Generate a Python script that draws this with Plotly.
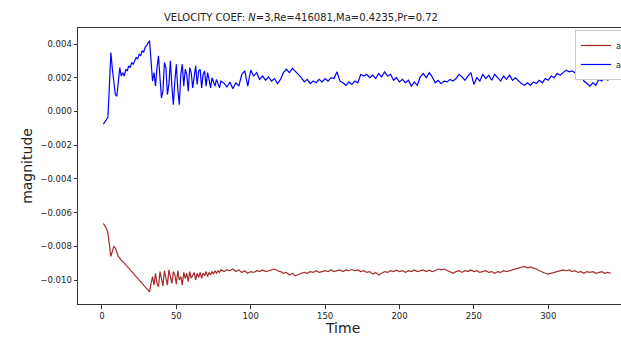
import plotly.graph_objects as go

# ---- data ----
time_early = list(range(1, 81))
time_late = list(range(82, 343, 2))
time = time_early + time_late

# series a0 (red), values in units of 1e-3
a0_early = [-6.65, -6.8, -6.95, -7.2, -8.0, -8.6, -8.3, -8.0, -8.1, -8.4,
            -8.6, -8.7, -8.85, -8.9, -9.0, -9.1, -9.2, -9.3, -9.45, -9.55,
            -9.65, -9.75, -9.85, -9.95, -10.05, -10.15, -10.25, -10.35, -10.45, -10.55,
            -10.65, -10.7, -10.2, -9.8, -10.3, -9.6, -10.2, -10.4, -9.5, -9.9,
            -10.35, -9.45, -9.8, -10.3, -9.4, -9.9, -10.2, -9.5, -9.7, -10.25,
            -9.45, -10.0, -9.8, -10.3, -9.55, -9.9, -9.6, -10.1, -9.5, -9.9,
            -9.7, -9.55, -10.0, -9.6, -9.85, -9.55, -9.9, -9.6, -9.75, -9.5,
            -9.8, -9.55, -9.7, -9.5, -9.65, -9.45, -9.6, -9.45, -9.55, -9.4]
a0_late = [-9.5, -9.4, -9.45, -9.35, -9.5, -9.4, -9.55, -9.45, -9.6, -9.5,
           -9.55, -9.45, -9.5, -9.4, -9.5, -9.45, -9.4, -9.35, -9.45, -9.5,
           -9.6, -9.55, -9.7, -9.6, -9.75, -9.65, -9.6, -9.55, -9.6, -9.5,
           -9.55, -9.45, -9.55, -9.5, -9.45, -9.5, -9.4, -9.5, -9.45, -9.4,
           -9.5, -9.4, -9.45, -9.38, -9.45, -9.4, -9.5, -9.45, -9.55, -9.5,
           -9.65, -9.55, -9.7, -9.6, -9.5, -9.55, -9.45, -9.5, -9.42, -9.5,
           -9.45, -9.55, -9.45, -9.5, -9.4, -9.5, -9.45, -9.4, -9.5, -9.42,
           -9.5, -9.45, -9.35, -9.4, -9.35, -9.45, -9.55, -9.6, -9.5, -9.45,
           -9.55, -9.45, -9.5, -9.4, -9.5, -9.45, -9.55, -9.5, -9.45, -9.55,
           -9.5, -9.6, -9.5, -9.55, -9.45, -9.5, -9.45, -9.4, -9.35, -9.3,
           -9.25, -9.2, -9.28, -9.22, -9.3, -9.35, -9.45, -9.55, -9.6, -9.65,
           -9.6, -9.55, -9.5, -9.45, -9.4, -9.45, -9.4, -9.5, -9.45, -9.55,
           -9.5, -9.6, -9.5, -9.55, -9.5, -9.6, -9.55, -9.5, -9.6, -9.55,
           -9.6]

# series a1 (blue), values in units of 1e-3
a1_early = [-0.75, -0.6, -0.5, -0.35, 1.5, 3.5, 2.5, 1.5, 1.0, 0.9,
            1.8, 2.6, 2.1, 2.3, 2.1, 2.5, 2.4, 2.7, 2.6, 2.9,
            2.8, 3.0, 3.2, 3.1, 3.4, 3.3, 3.6, 3.5, 3.8, 3.9,
            4.1, 4.2, 3.0, 1.8, 2.3, 1.5, 2.6, 3.3, 2.0, 0.8,
            1.2, 2.9, 2.6, 1.0, 1.6, 3.0, 1.5, 0.4, 1.8, 2.8,
            1.3, 0.4, 2.2, 2.8, 1.5, 2.5, 2.2, 1.2, 2.6, 2.3,
            1.4, 2.0, 2.7, 1.6, 2.4, 2.5, 1.4, 2.2, 2.4, 1.5,
            2.3, 1.9, 1.4, 2.0, 1.7, 1.5, 1.9, 1.6, 1.4, 1.8]
a1_late = [1.68, 1.45, 1.75, 1.35, 1.7, 1.5, 2.2, 2.4, 1.5, 2.45,
           2.1, 2.3, 1.9, 2.1, 1.85, 2.05, 1.8, 1.95, 1.65, 1.9,
           2.3, 2.5, 2.3, 2.55, 2.4, 2.2, 2.0, 1.75, 1.9, 1.65,
           1.8, 1.7, 1.9, 1.75, 1.95, 1.8, 2.0, 1.95, 2.35, 1.8,
           1.7, 1.55, 1.75, 1.6, 1.8, 1.7, 2.2, 2.1, 2.2, 2.0,
           2.15, 1.95, 2.25, 2.05, 2.35, 2.1, 2.2, 1.85, 2.0, 1.75,
           1.9, 1.7, 1.85, 1.5, 1.75, 1.55, 2.05, 2.25, 2.0, 2.3,
           2.05, 1.7, 1.85, 1.65, 1.8, 1.75, 1.9, 1.8, 1.95, 2.2,
           2.05, 1.85, 2.1, 2.3, 1.6, 2.0, 1.8, 2.2, 1.95, 2.15,
           1.85, 2.2, 2.0, 1.8, 2.1, 1.9, 2.15, 1.85, 2.0, 1.8,
           1.65, 1.55, 1.7, 1.55, 1.75, 1.65, 1.85, 1.7, 1.95, 1.85,
           2.1, 2.0, 2.25, 2.15, 2.3, 2.45, 2.35, 2.4, 2.3, 2.2,
           2.15, 1.8, 1.65, 1.5, 1.7, 1.55, 1.9, 1.8, 2.05, 1.85,
           2.0]

a0 = [v * 1e-3 for v in a0_early + a0_late]
a1 = [v * 1e-3 for v in a1_early + a1_late]

series_names = ["a<sub>0</sub>", "a<sub>1</sub>"]
series_colors = ["#a52a2a", "#0000ff"]
y_ticks = [0.004, 0.002, 0.0, -0.002, -0.004, -0.006, -0.008, -0.010]
x_ticks = [0, 50, 100, 150, 200, 250, 300]

W, H = 621, 340
ML, MR, MT, MB = 78, 0, 28, 36
PW, PH = W - ML - MR, H - MT - MB
font = "DejaVu Sans"

fig = go.Figure()
for name, col, ys in zip(series_names, series_colors, [a0, a1]):
    fig.add_trace(go.Scatter(x=time, y=ys, mode="lines", name=name,
                             line=dict(color=col, width=1.2)))

fig.update_layout(
    width=W, height=H,
    margin=dict(l=ML, r=MR, t=MT, b=MB, autoexpand=False),
    paper_bgcolor="white", plot_bgcolor="white",
    font=dict(family=font, color="#222"),
    title=dict(text="VELOCITY COEF: <i>N</i>=3,Re=416081,Ma=0.4235,Pr=0.72",
               font=dict(size=10, family=font, color="#222"),
               x=(301 - ML) / PW, xref="paper", xanchor="center",
               y=1 - 17 / H, yref="container", yanchor="middle"),
    showlegend=True,
    legend=dict(x=(575 - ML) / PW, y=(H - MB - 30) / PH,
                xanchor="left", yanchor="top",
                bgcolor="white", bordercolor="#cccccc", borderwidth=1,
                font=dict(size=8, family=font), tracegroupgap=0, itemwidth=30),
)
fig.update_xaxes(range=[-16.1, 348.9], tickvals=x_ticks,
                 showgrid=False, zeroline=False,
                 showline=True, linecolor="#333", linewidth=1, mirror=True,
                 ticks="outside", ticklen=3.5, tickcolor="#333",
                 tickfont=dict(size=8.5, family=font, color="#222"))
fig.update_yaxes(range=[-0.011424, 0.004949], tickvals=y_ticks, tickformat=".3f",
                 showgrid=False, zeroline=False,
                 showline=True, linecolor="#333", linewidth=1, mirror=False,
                 ticks="outside", ticklen=3.5, tickcolor="#333",
                 tickfont=dict(size=8.5, family=font, color="#222"),
                 title=dict(text="magnitude", font=dict(size=14, family=font, color="#222"),
                            standoff=4))
fig.add_annotation(text="Time", xref="paper", yref="paper",
                   x=(342 - ML) / PW, y=-(328 - (H - MB)) / PH,
                   xanchor="center", yanchor="middle", showarrow=False,
                   font=dict(size=14, family=font, color="#222"))

fig.write_html("out.html")
